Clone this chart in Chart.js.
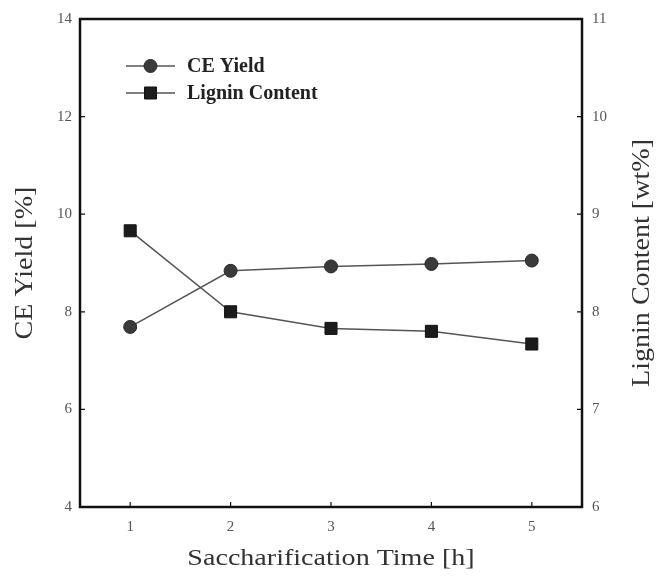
<!DOCTYPE html>
<html>
<head>
<meta charset="utf-8">
<script src="https://cdn.jsdelivr.net/npm/chart.js@4.4.0/dist/chart.umd.min.js"></script>
<style>
  html, body { margin: 0; padding: 0; background: #fff; }
  #wrap { width: 671px; height: 584px; }
</style>
</head>
<body>
<div id="wrap"><canvas id="chart" width="671" height="584"></canvas></div>
<script>
const times = ["1", "2", "3", "4", "5"];
const ceYield = [7.69, 8.84, 8.93, 8.98, 9.05];
const ligninContent = [8.83, 8.00, 7.83, 7.80, 7.67];

const serif = "'Liberation Serif', 'Times New Roman', serif";

// text that is a little stretched along its own direction, like the scanned figure
function stretchedText(ctx, text, x, y, angle, stretch) {
    ctx.save();
    ctx.translate(x, y);
    ctx.rotate(angle);
    ctx.scale(stretch, 1);
    ctx.fillText(text, 0, 0);
    ctx.restore();
}

// box, inward ticks, axis titles and the in-plot legend
const decorations = {
    id: "decorations",
    afterDraw(chart) {
        const ctx = chart.ctx;
        const area = chart.chartArea;
        const sx = chart.scales.x, yl = chart.scales.y, yr = chart.scales.y2;
        ctx.save();

        ctx.strokeStyle = "#111";
        ctx.lineWidth = 1.2;
        ctx.beginPath();
        sx.ticks.forEach((t, i) => {
            const px = sx.getPixelForTick(i);
            ctx.moveTo(px, area.bottom);
            ctx.lineTo(px, area.bottom - 5);
        });
        yl.ticks.forEach((t, i) => {
            const py = yl.getPixelForTick(i);
            ctx.moveTo(area.left, py);
            ctx.lineTo(area.left + 5, py);
        });
        yr.ticks.forEach((t, i) => {
            const py = yr.getPixelForTick(i);
            ctx.moveTo(area.right, py);
            ctx.lineTo(area.right - 5, py);
        });
        ctx.stroke();

        ctx.strokeStyle = "#111";
        ctx.lineWidth = 2.5;
        ctx.strokeRect(area.left, area.top, area.right - area.left, area.bottom - area.top);

        ctx.fillStyle = "#333";
        ctx.textAlign = "center";
        ctx.textBaseline = "middle";
        ctx.font = "23px " + serif;
        stretchedText(ctx, "Saccharification Time [h]", 331, 559, 0, 1.22);
        ctx.font = "26px " + serif;
        stretchedText(ctx, "CE Yield [%]", 25, 263, -Math.PI / 2, 1.08);
        stretchedText(ctx, "Lignin Content [wt%]", 642, 263, -Math.PI / 2, 1.08);

        // legend
        const rows = [
            { label: "CE Yield", ds: 0, y: area.top + 47 },
            { label: "Lignin Content", ds: 1, y: area.top + 74 }
        ];
        const lx = area.left + 46;
        rows.forEach(r => {
            const d = chart.data.datasets[r.ds];
            ctx.strokeStyle = d.borderColor;
            ctx.lineWidth = 1.5;
            ctx.beginPath();
            ctx.moveTo(lx, r.y);
            ctx.lineTo(lx + 49, r.y);
            ctx.stroke();
            ctx.fillStyle = d.pointBackgroundColor;
            ctx.strokeStyle = d.pointBorderColor;
            ctx.lineWidth = 1;
            Chart.helpers.drawPoint(ctx, { pointStyle: d.pointStyle, radius: d.pointRadius, borderWidth: 1 }, lx + 24.5, r.y);
            ctx.fillStyle = "#222";
            ctx.font = "bold 20px " + serif;
            ctx.textAlign = "left";
            ctx.fillText(r.label, lx + 61, r.y + 1);
        });

        ctx.restore();
    }
};

new Chart(document.getElementById("chart"), {
    type: "line",
    data: {
        labels: times,
        datasets: [
            {
                label: "CE Yield",
                data: ceYield,
                yAxisID: "y",
                borderColor: "#555",
                borderWidth: 1.5,
                pointStyle: "circle",
                pointRadius: 6.5,
                pointBackgroundColor: "#3a3a3a",
                pointBorderColor: "#2a2a2a",
                pointBorderWidth: 1,
                tension: 0
            },
            {
                label: "Lignin Content",
                data: ligninContent,
                yAxisID: "y2",
                borderColor: "#555",
                borderWidth: 1.5,
                pointStyle: "rect",
                pointRadius: 8.5,
                pointBackgroundColor: "#1c1c1c",
                pointBorderColor: "#111",
                pointBorderWidth: 1,
                tension: 0
            }
        ]
    },
    options: {
        responsive: false,
        animation: false,
        layout: { padding: { top: 16, left: 0, right: 0, bottom: 0 } },
        plugins: {
            legend: { display: false },
            tooltip: { enabled: false }
        },
        scales: {
            x: {
                type: "category",
                offset: true,
                afterFit: s => { s.height = 77; },
                grid: { display: false, drawTicks: false },
                border: { display: false },
                ticks: {
                    padding: 11,
                    color: "#555",
                    font: { family: serif, size: 15 }
                }
            },
            y: {
                position: "left",
                min: 4,
                max: 14,
                afterFit: s => { s.width = 80; },
                grid: { display: false, drawTicks: false },
                border: { display: false },
                ticks: {
                    stepSize: 2,
                    padding: 8,
                    color: "#555",
                    font: { family: serif, size: 15 }
                }
            },
            y2: {
                position: "right",
                min: 6,
                max: 11,
                afterFit: s => { s.width = 89; },
                grid: { display: false, drawTicks: false },
                border: { display: false },
                ticks: {
                    stepSize: 1,
                    padding: 10,
                    color: "#555",
                    font: { family: serif, size: 15 }
                }
            }
        }
    },
    plugins: [decorations]
});
</script>
</body>
</html>
